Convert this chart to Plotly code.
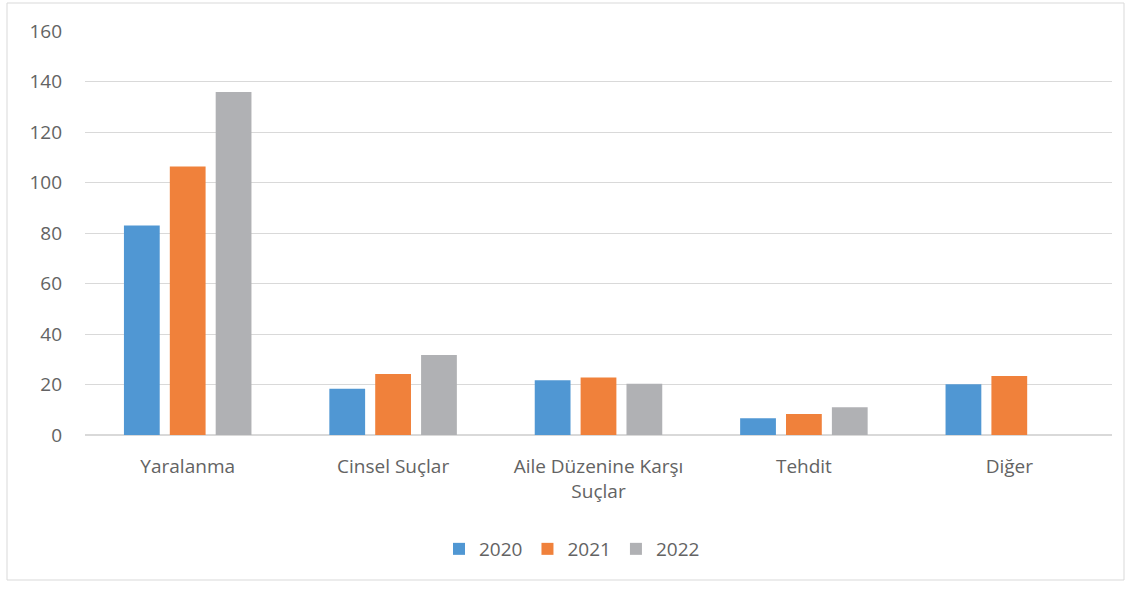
import plotly.graph_objects as go

categories = ["Yaralanma", "Cinsel Suçlar", "Aile Düzenine Karşı<br>Suçlar", "Tehdit", "Diğer"]
years = ["2020", "2021", "2022"]
v2020 = [83, 18.3, 21.7, 6.6, 20.1]
v2021 = [106.3, 24.2, 22.8, 8.3, 23.4]
v2022 = [135.8, 31.7, 20.3, 11, None]
colors = ["#5097D3", "#F0813B", "#B0B1B4"]
tickvals = [0, 20, 40, 60, 80, 100, 120, 140, 160]

fig = go.Figure()
for name, vals, c in zip(years, [v2020, v2021, v2022], colors):
    fig.add_trace(go.Bar(x=categories, y=vals, name=name, marker_color=c,
                         marker_line_width=0))

L, R, T, B = 85, 19, 31, 155
W, H = 1131, 590
pw, ph = W - L - R, H - T - B
fig.update_layout(
    width=W, height=H,
    margin=dict(l=L, r=R, t=T, b=B),
    paper_bgcolor="white", plot_bgcolor="white",
    barmode="group", bargap=0.33, bargroupgap=0.22,
    font=dict(family="Open Sans, sans-serif", size=19, color="#636363"),
    legend=dict(orientation="h", x=(572 - L) / pw, xanchor="center",
                y=(435 - 549) / ph, yanchor="middle",
                font=dict(size=19, color="#636363"), traceorder="normal",
                itemwidth=30),
    showlegend=True,
    shapes=[dict(type="rect", xref="paper", yref="paper",
                 x0=(7 - L) / pw, x1=(1124 - L) / pw,
                 y0=(T + ph - 580) / ph, y1=(T + ph - 3) / ph,
                 line=dict(color="#D9D9D9", width=1), fillcolor="rgba(0,0,0,0)",
                 layer="below")],
)
fig.update_yaxes(range=[0, 160], tickvals=tickvals, showgrid=True,
                 gridcolor="#D9D9D9", gridwidth=1, zeroline=True,
                 zerolinecolor="#D9D9D9", showline=False, ticks="",
                 ticklabelstandoff=22)
fig.update_xaxes(showline=True, linecolor="#D9D9D9", ticks="",
                 ticklabelstandoff=14)

fig.write_html("out.html", config={"displayModeBar": False},
               post_script="document.body.style.margin='0';document.body.style.padding='0';")
